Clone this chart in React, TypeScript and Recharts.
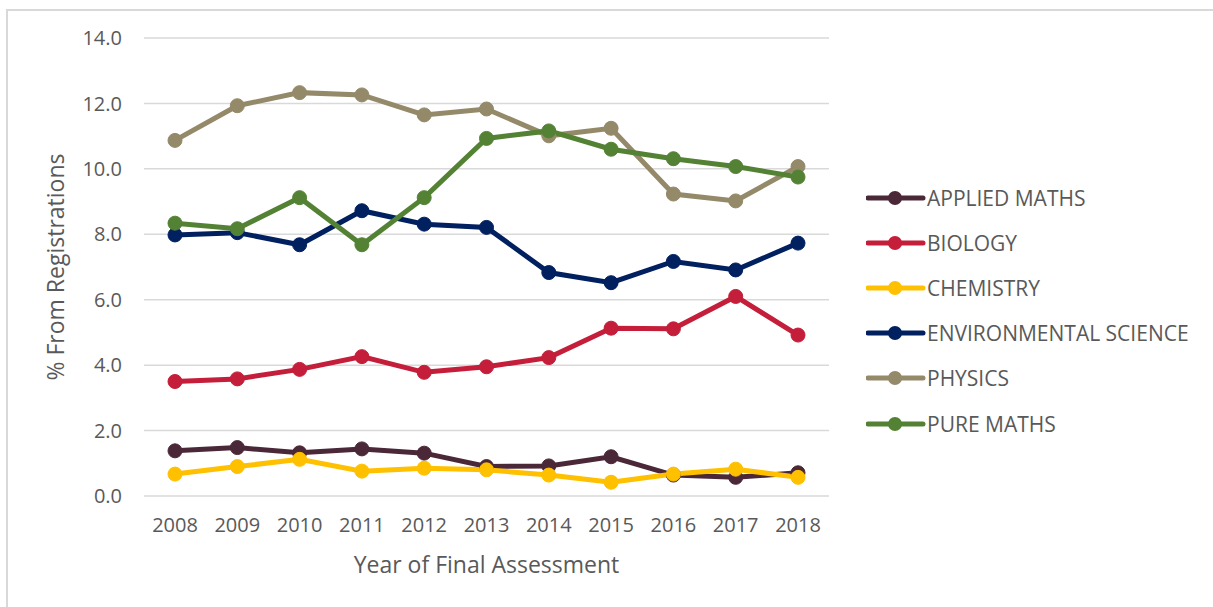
import { CartesianGrid, Legend, Line, LineChart, XAxis, YAxis } from 'recharts'

// year of final assessment
const years = ['2008', '2009', '2010', '2011', '2012', '2013', '2014', '2015', '2016', '2017', '2018']

// % from registrations, per subject
const appliedMaths = [1.38, 1.48, 1.32, 1.44, 1.31, 0.9, 0.92, 1.2, 0.64, 0.57, 0.71]
const biology = [3.5, 3.58, 3.87, 4.26, 3.78, 3.95, 4.23, 5.13, 5.11, 6.1, 4.92]
const chemistry = [0.67, 0.9, 1.12, 0.76, 0.85, 0.8, 0.64, 0.42, 0.67, 0.82, 0.57]
const environmentalScience = [7.98, 8.05, 7.68, 8.72, 8.31, 8.21, 6.83, 6.52, 7.17, 6.91, 7.73]
const physics = [10.87, 11.93, 12.33, 12.26, 11.65, 11.83, 11.01, 11.24, 9.23, 9.02, 10.07]
const pureMaths = [8.34, 8.17, 9.12, 7.68, 9.12, 10.93, 11.16, 10.6, 10.31, 10.07, 9.75]

const yTicks = [0, 2, 4, 6, 8, 10, 12, 14]

const series = [
  { key: 'APPLIED MATHS', values: appliedMaths, color: '#4B2838' },
  { key: 'BIOLOGY', values: biology, color: '#C41E3A' },
  { key: 'CHEMISTRY', values: chemistry, color: '#FFC000' },
  { key: 'ENVIRONMENTAL SCIENCE', values: environmentalScience, color: '#002060' },
  { key: 'PHYSICS', values: physics, color: '#948A6A' },
  { key: 'PURE MATHS', values: pureMaths, color: '#548235' },
]

const chartData = years.map((year, i) => {
  const row: Record<string, string | number> = { year }
  series.forEach((s) => {
    row[s.key] = s.values[i]
  })
  return row
})

const FONT = '"Open Sans", sans-serif'
const TEXT = '#595959'

function renderLegend(props: any) {
  const payload = props.payload || []
  return (
    <div style={{ fontFamily: FONT }}>
      {payload.map((entry: any) => (
        <div key={entry.value} style={{ display: 'flex', alignItems: 'center', height: 45.2 }}>
          <svg width={60} height={20} style={{ marginRight: 1 }}>
            <line x1={2} y1={10} x2={57} y2={10} stroke={entry.color} strokeWidth={5} strokeLinecap="round" />
            <circle cx={29} cy={10} r={7} fill={entry.color} />
          </svg>
          <span style={{ fontSize: 21, color: TEXT, whiteSpace: 'nowrap' }}>{entry.value}</span>
        </div>
      ))}
    </div>
  )
}

function App() {
  return (
    <div style={{ position: 'relative', width: 1197, height: 590 }}>
      <LineChart
        width={1197}
        height={590}
        data={chartData}
        margin={{ top: 30, right: 37, left: 0, bottom: 12 }}
        style={{ fontFamily: FONT }}
      >
        <CartesianGrid vertical={false} stroke="#d9d9d9" strokeWidth={1.5} />
        <XAxis
          dataKey="year"
          height={90}
          interval={0}
          padding={{ left: 31, right: 31 }}
          axisLine={false}
          tickLine={false}
          tickSize={0}
          tickMargin={22}
          tick={{ fill: TEXT, fontSize: 20 }}
          label={{
            content: (p: any) => {
              const vb = p.viewBox
              return (
                <text x={vb.x + vb.width / 2} y={vb.y + 77} textAnchor="middle" fill={TEXT} fontSize={23} fontFamily={FONT}>
                  Year of Final Assessment
                </text>
              )
            },
          }}
        />
        <YAxis
          width={136}
          domain={[0, 14]}
          ticks={yTicks}
          interval={0}
          axisLine={false}
          tickLine={false}
          tickSize={0}
          tickMargin={22}
          tickFormatter={(v: number) => v.toFixed(1)}
          tick={{ fill: TEXT, fontSize: 20 }}
          label={{
            content: (p: any) => {
              const vb = p.viewBox
              const cx = vb.x + 50
              const cy = vb.y + vb.height / 2
              return (
                <text x={cx} y={cy} transform={`rotate(-90 ${cx} ${cy})`} textAnchor="middle" dominantBaseline="middle" fill={TEXT} fontSize={23} fontFamily={FONT}>
                  % From Registrations
                </text>
              )
            },
          }}
        />
        <Legend
          layout="vertical"
          align="right"
          verticalAlign="top"
          content={renderLegend}
          wrapperStyle={{ left: 858, top: 167, width: 339 }}
        />
        {series.map((s) => (
          <Line
            key={s.key}
            type="linear"
            dataKey={s.key}
            stroke={s.color}
            strokeWidth={5}
            dot={{ r: 7, fill: s.color, stroke: s.color, strokeWidth: 1 }}
            activeDot={false}
            isAnimationActive={false}
          />
        ))}
      </LineChart>
      <div
        style={{
          position: 'fixed',
          left: 6,
          top: 9,
          width: 2,
          height: 598,
          background: '#d9d9d9',
          pointerEvents: 'none',
          zIndex: 10,
        }}
      />
      <div
        style={{
          position: 'fixed',
          left: 6,
          top: 9,
          width: 1207,
          height: 2,
          background: '#d9d9d9',
          pointerEvents: 'none',
          zIndex: 10,
        }}
      />
    </div>
  )
}

export default App
